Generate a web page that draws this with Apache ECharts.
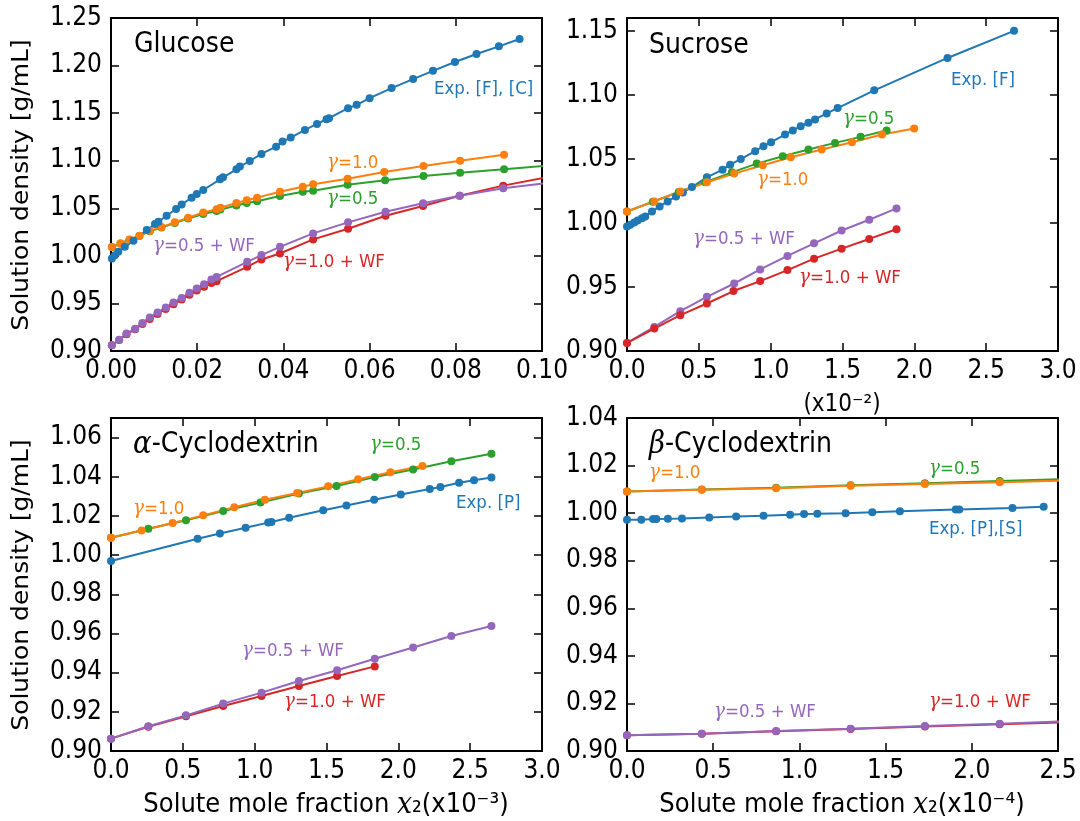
<!DOCTYPE html>
<html><head><meta charset="utf-8">
<script src="https://cdn.jsdelivr.net/npm/echarts@6/dist/echarts.min.js"></script>
<style>html,body{margin:0;padding:0;background:#fff}#c{width:1080px;height:821px}</style>
</head><body><div id="c"></div>
<script>
// ---------- DATA ----------
const glucoseExp = [[0.0002,0.9972],[0.0009,1.0007],[0.0017,1.0043],[0.0032,1.0095],[0.0052,1.0158],[0.0083,1.0271],[0.0102,1.0334],[0.0110,1.0359],[0.0129,1.0422],[0.0151,1.0492],[0.0164,1.0541],[0.0187,1.0611],[0.0199,1.0650],[0.0214,1.0692],[0.0253,1.0804],[0.0260,1.0825],[0.0291,1.0910],[0.0299,1.0938],[0.0322,1.0997],[0.0349,1.1071],[0.0383,1.1148],[0.0398,1.1201],[0.0417,1.1243],[0.0450,1.1324],[0.0478,1.1387],[0.0500,1.1436],[0.0506,1.1447],[0.0550,1.1552],[0.0570,1.1587],[0.0600,1.1657],[0.0651,1.1763],[0.0701,1.1858],[0.0747,1.1945],[0.0798,1.2037],[0.0848,1.2121],[0.0900,1.2202],[0.0948,1.2279]];
const glucoseG10 = [[0.0002,1.0092],[0.0022,1.0130],[0.0043,1.0172],[0.0066,1.0212],[0.0090,1.0262],[0.0117,1.0302],[0.0148,1.0352],[0.0179,1.0400],[0.0214,1.0455],[0.0245,1.0490],[0.0254,1.0505],[0.0291,1.0555],[0.0315,1.0585],[0.0339,1.0612],[0.0392,1.0674],[0.0445,1.0727],[0.0469,1.0752],[0.0549,1.0811],[0.0634,1.0881],[0.0725,1.0944],[0.0810,1.1000],[0.0912,1.1063]];
const glucoseG05 = [[0.0002,1.0092],[0.0022,1.0130],[0.0043,1.0170],[0.0066,1.0210],[0.0090,1.0258],[0.0117,1.0298],[0.0148,1.0346],[0.0179,1.0392],[0.0214,1.0440],[0.0245,1.0472],[0.0254,1.0486],[0.0291,1.0530],[0.0315,1.0555],[0.0339,1.0575],[0.0392,1.0629],[0.0445,1.0674],[0.0469,1.0685],[0.0549,1.0748],[0.0636,1.0794],[0.0725,1.0839],[0.0810,1.0874],[0.0912,1.0910],[0.1015,1.0950]];
const glucoseG05WF = [[0.0002,0.9060],[0.0019,0.9119],[0.0036,0.9183],[0.0056,0.9235],[0.0073,0.9295],[0.0090,0.9351],[0.0108,0.9404],[0.0127,0.9456],[0.0145,0.9509],[0.0164,0.9558],[0.0182,0.9611],[0.0199,0.9656],[0.0216,0.9702],[0.0233,0.9751],[0.0245,0.9779],[0.0316,0.9937],[0.0349,1.0008],[0.0392,1.0095],[0.0469,1.0236],[0.0550,1.0352],[0.0637,1.0464],[0.0724,1.0552],[0.0809,1.0632],[0.0910,1.0710],[0.1015,1.0768]];
const glucoseG10WF = [[0.0002,0.9060],[0.0019,0.9116],[0.0036,0.9176],[0.0056,0.9228],[0.0073,0.9284],[0.0090,0.9337],[0.0108,0.9390],[0.0127,0.9442],[0.0145,0.9491],[0.0164,0.9541],[0.0182,0.9590],[0.0199,0.9635],[0.0216,0.9674],[0.0233,0.9716],[0.0245,0.9734],[0.0316,0.9885],[0.0349,0.9962],[0.0392,1.0025],[0.0469,1.0173],[0.0550,1.0285],[0.0637,1.0422],[0.0724,1.0524],[0.0809,1.0632],[0.0910,1.0738],[0.1015,1.0830]];

const sucroseExp = [[0,0.9972],[0.023,0.9985],[0.051,1.0003],[0.074,1.0019],[0.104,1.0037],[0.127,1.0050],[0.174,1.0089],[0.227,1.0129],[0.283,1.0168],[0.341,1.0207],[0.389,1.0238],[0.452,1.0280],[0.556,1.0356],[0.665,1.0416],[0.718,1.0455],[0.792,1.0499],[0.892,1.0560],[0.950,1.0599],[1.003,1.0630],[1.100,1.0690],[1.154,1.0722],[1.209,1.0755],[1.263,1.0782],[1.309,1.0808],[1.390,1.0855],[1.466,1.0897],[1.721,1.1035],[2.231,1.1288],[2.694,1.1500]];
const sucroseG10 = [[0,1.0089],[0.190,1.0168],[0.371,1.0246],[0.556,1.0317],[0.746,1.0385],[0.945,1.0450],[1.140,1.0513],[1.355,1.0573],[1.566,1.0630],[1.775,1.0690],[1.999,1.0737]];
const sucroseG05 = [[0,1.0089],[0.180,1.0165],[0.360,1.0242],[0.545,1.0318],[0.730,1.0395],[0.903,1.0463],[1.084,1.0520],[1.263,1.0573],[1.448,1.0625],[1.626,1.0672],[1.807,1.0722]];
const sucroseG05WF = [[0,0.9063],[0.190,0.9188],[0.371,0.9311],[0.556,0.9423],[0.746,0.9527],[0.927,0.9637],[1.117,0.9742],[1.302,0.9841],[1.494,0.9941],[1.686,1.0025],[1.876,1.0113]];
const sucroseG10WF = [[0,0.9063],[0.190,0.9175],[0.371,0.9280],[0.556,0.9371],[0.741,0.9468],[0.927,0.9546],[1.117,0.9632],[1.302,0.9721],[1.494,0.9799],[1.686,0.9875],[1.876,0.9951]];

const alphaExp = [[0,0.9970],[0.603,1.0084],[0.758,1.0110],[0.937,1.0140],[1.094,1.0166],[1.117,1.0169],[1.240,1.0191],[1.477,1.0229],[1.639,1.0253],[1.832,1.0283],[2.017,1.0309],[2.219,1.0338],[2.293,1.0348],[2.423,1.0369],[2.527,1.0382],[2.648,1.0396]];
const alphaG10 = [[0,1.0089],[0.213,1.0126],[0.429,1.0164],[0.642,1.0203],[0.858,1.0244],[1.071,1.0283],[1.296,1.0317],[1.512,1.0351],[1.720,1.0387],[1.945,1.0423],[2.168,1.0455]];
const alphaG05 = [[0,1.0089],[0.260,1.0135],[0.522,1.0178],[0.781,1.0225],[1.041,1.0268],[1.308,1.0314],[1.570,1.0353],[1.836,1.0399],[2.103,1.0437],[2.369,1.0479],[2.648,1.0518]];
const alphaG05WF = [[0,0.9063],[0.260,0.9126],[0.522,0.9182],[0.781,0.9242],[1.048,0.9298],[1.308,0.9357],[1.574,0.9412],[1.836,0.9471],[2.103,0.9528],[2.369,0.9587],[2.648,0.9638]];
const alphaG10WF = [[0,0.9063],[0.260,0.9124],[0.522,0.9177],[0.781,0.9230],[1.048,0.9281],[1.308,0.9332],[1.574,0.9383],[1.836,0.9432]];

const betaExp = [[0,0.9972],[0.083,0.9972],[0.151,0.9975],[0.170,0.9975],[0.237,0.9976],[0.319,0.9978],[0.477,0.9982],[0.633,0.9986],[0.792,0.9989],[0.946,0.9993],[1.027,0.9996],[1.104,0.9997],[1.268,1.0000],[1.423,1.0004],[1.583,1.0008],[1.907,1.0015],[1.927,1.0015],[2.236,1.0022],[2.417,1.0027]];
const betaG10 = [[0,1.0091],[0.434,1.0098],[0.865,1.0105],[1.297,1.0115],[1.728,1.0123],[2.162,1.0130],[2.595,1.0138]];
const betaG05 = [[0,1.0091],[0.434,1.0099],[0.865,1.0107],[1.297,1.0117],[1.728,1.0126],[2.162,1.0135],[2.595,1.0144]];
const betaG05WF = [[0,0.9066],[0.434,0.9073],[0.865,0.9084],[1.297,0.9094],[1.728,0.9105],[2.162,0.9115],[2.595,0.9127]];
const betaG10WF = [[0,0.9066],[0.434,0.9072],[0.865,0.9083],[1.297,0.9093],[1.728,0.9103],[2.162,0.9112],[2.595,0.9122]];

// axis ranges / tick settings
const xRanges = [[0,0.10,0.02,2],[0,3,0.5,1],[0,3,0.5,1],[0,2.5,0.5,1]];
const yRanges = [[0.90,1.25,0.05,true],[0.90,1.16,0.05,false],[0.90,1.07,0.02,false],[0.90,1.04,0.02,true]];

// ---------- STYLE ----------
const C = {blue:'#1f77b4', orange:'#ff7f0e', green:'#2ca02c', red:'#d62728', purple:'#9467bd'};
const TICKFONT = "'DejaVu Sans Condensed', 'DejaVu Sans', sans-serif";
const grids = [
  {left:111, top:18, width:431, height:333},
  {left:627, top:18, width:431, height:333},
  {left:111, top:418, width:431, height:333},
  {left:627, top:418, width:431, height:333}
];

const xAxes = [], yAxes = [];
grids.forEach((g, i) => {
  const [xmin,xmax,xint,xdec] = xRanges[i];
  const [ymin,ymax,yint,showMax] = yRanges[i];
  const line = {show:true, onZero:false, lineStyle:{color:'#000', width:2}};
  const tick = {show:true, inside:true, length:8, lineStyle:{color:'#000', width:1.5}};
  const lab = {color:'#000', fontSize:26, fontFamily:TICKFONT};
  xAxes.push({gridIndex:i, type:'value', position:'bottom', min:xmin, max:xmax, interval:xint,
    axisLine:line, axisTick:tick, splitLine:{show:false},
    axisLabel:Object.assign({margin:7, formatter:v=>v.toFixed(xdec)}, lab)});
  xAxes.push({gridIndex:i, type:'value', position:'top', min:xmin, max:xmax, interval:xint,
    axisLine:line, axisTick:tick, splitLine:{show:false}, axisLabel:{show:false}});
  yAxes.push({gridIndex:i, type:'value', position:'left', min:ymin, max:ymax, interval:yint,
    axisLine:line, axisTick:tick, splitLine:{show:false},
    axisLabel:Object.assign({margin:9, showMaxLabel:showMax, formatter:v=>v.toFixed(2)}, lab)});
  yAxes.push({gridIndex:i, type:'value', position:'right', min:ymin, max:ymax, interval:yint,
    axisLine:line, axisTick:tick, splitLine:{show:false}, axisLabel:{show:false}});
});

function ser(panel, data, color) {
  return {type:'line', xAxisIndex:panel*2, yAxisIndex:panel*2, data:data, clip:true,
    symbol:'circle', symbolSize:8, showSymbol:true, color:color,
    itemStyle:{color:color}, lineStyle:{color:color, width:2}, animation:false, silent:true};
}
const series = [
  ser(0, glucoseG05, C.green), ser(0, glucoseG10, C.orange), ser(0, glucoseG10WF, C.red), ser(0, glucoseG05WF, C.purple), ser(0, glucoseExp, C.blue),
  ser(1, sucroseExp, C.blue), ser(1, sucroseG05, C.green), ser(1, sucroseG10, C.orange), ser(1, sucroseG05WF, C.purple), ser(1, sucroseG10WF, C.red),
  ser(2, alphaExp, C.blue), ser(2, alphaG05, C.green), ser(2, alphaG10, C.orange), ser(2, alphaG10WF, C.red), ser(2, alphaG05WF, C.purple),
  ser(3, betaExp, C.blue), ser(3, betaG05, C.green), ser(3, betaG10, C.orange), ser(3, betaG10WF, C.red), ser(3, betaG05WF, C.purple)
];

// ---------- TEXT ----------
const SANS = "'DejaVu Sans', sans-serif";
function txt(x, y, text, color, size, align) {
  return {type:'text', x:x, y:y, scaleX:0.9, z:100, silent:true,
    style:{text:text, fill:color, fontSize:size, fontFamily:SANS, align:align||'left', verticalAlign:'middle',
      rich:{g:{fill:color, fontSize:size*1.1, fontFamily:"'DejaVu Serif', serif", fontStyle:'italic'},
            i:{fill:color, fontSize:size*1.1, fontFamily:"'DejaVu Serif', serif", fontStyle:'italic'}}}};
}
const A = 18.5, T = 28;
const graphics = [
  txt(134, 45, 'Glucose', '#000', T),
  txt(434, 89, 'Exp. [F], [C]', C.blue, A),
  txt(327, 163, '{g|γ}=1.0', C.orange, A),
  txt(327, 199, '{g|γ}=0.5', C.green, A),
  txt(153, 246, '{g|γ}=0.5 + WF', C.purple, A),
  txt(283, 262, '{g|γ}=1.0 + WF', C.red, A),

  txt(649, 46, 'Sucrose', '#000', T),
  txt(951, 80, 'Exp. [F]', C.blue, A),
  txt(843, 119, '{g|γ}=0.5', C.green, A),
  txt(757, 180, '{g|γ}=1.0', C.orange, A),
  txt(693, 239, '{g|γ}=0.5 + WF', C.purple, A),
  txt(799, 278, '{g|γ}=1.0 + WF', C.red, A),
  txt(842, 405, '(x10⁻²)', '#000', 24, 'center'),

  txt(133, 445, '{i|α}-Cyclodextrin', '#000', T),
  txt(370, 445, '{g|γ}=0.5', C.green, A),
  txt(133, 509, '{g|γ}=1.0', C.orange, A),
  txt(456, 503, 'Exp. [P]', C.blue, A),
  txt(242, 651, '{g|γ}=0.5 + WF', C.purple, A),
  txt(284, 702, '{g|γ}=1.0 + WF', C.red, A),

  txt(649, 445, '{i|β}-Cyclodextrin', '#000', T),
  txt(649, 473, '{g|γ}=1.0', C.orange, A),
  txt(929, 469, '{g|γ}=0.5', C.green, A),
  txt(929, 529, 'Exp. [P],[S]', C.blue, A),
  txt(714, 712, '{g|γ}=0.5 + WF', C.purple, A),
  txt(929, 702, '{g|γ}=1.0 + WF', C.red, A),

  txt(326, 805, 'Solute mole fraction {i|x}₂(x10⁻³)', '#000', 27, 'center'),
  txt(842, 805, 'Solute mole fraction {i|x}₂(x10⁻⁴)', '#000', 27, 'center'),
  {type:'text', x:22, y:185, rotation:Math.PI/2, scaleY:0.9, z:100, silent:true,
    style:{text:'Solution density [g/mL]', fill:'#000', fontSize:25, fontFamily:SANS, align:'center', verticalAlign:'middle'}},
  {type:'text', x:22, y:585, rotation:Math.PI/2, scaleY:0.9, z:100, silent:true,
    style:{text:'Solution density [g/mL]', fill:'#000', fontSize:25, fontFamily:SANS, align:'center', verticalAlign:'middle'}}
];

const chart = echarts.init(document.getElementById('c'), null, {renderer:'canvas'});
chart.setOption({
  animation:false,
  backgroundColor:'#fff',
  grid:grids,
  xAxis:xAxes,
  yAxis:yAxes,
  series:series,
  graphic:graphics
});
</script>
</body></html>
